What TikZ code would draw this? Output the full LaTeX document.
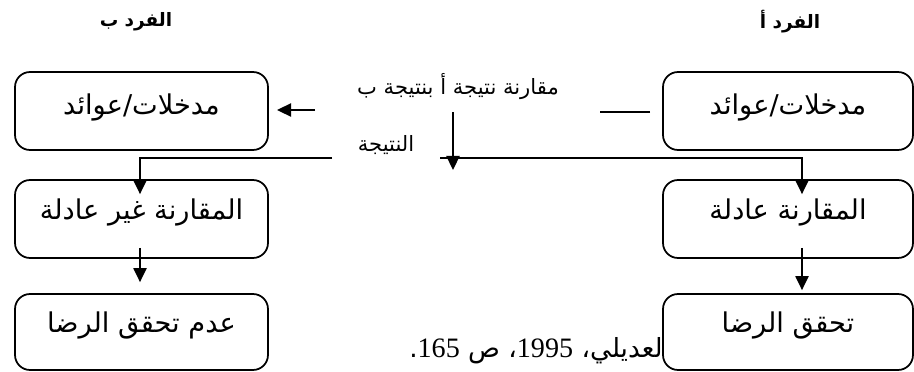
\documentclass[tikz,border=0pt]{standalone}
\usepackage{fontspec}
\setmainfont{DejaVu Sans}
\newfontfamily\arabicfont[Script=Arabic]{DejaVu Sans}
\newfontfamily\numfont{Liberation Serif}
\TeXXeTstate=1
\usetikzlibrary{arrows.meta, positioning}
\newcommand{\artxt}[1]{\beginR #1\endR}

\begin{document}
\begin{tikzpicture}[
  x=0.02cm, y=-0.02cm,
  box/.style={rectangle, draw, rounded corners=0.3cm, line width=1pt, minimum width=5.06cm, minimum height=1.56cm, text height=12pt, text depth=11pt, font=\arabicfont\fontsize{15.5}{18}\selectfont},
  label/.style={inner sep=1pt, font=\arabicfont\fontsize{12}{14}\selectfont},
  head/.style={inner sep=1pt, font=\arabicfont\bfseries\fontsize{10.5}{13}\selectfont},
  arrow/.style={-{Triangle[length=8pt, width=7.5pt]}, line width=1pt},
  line/.style={line width=1pt}
]
\useasboundingbox (0,0) rectangle (914,372);

% Headers
\node[head] (hdrB) at (136, 22) {\artxt{الفرد ب}};
\node[head] (hdrA) at (790, 22) {\artxt{الفرد أ}};

% Person A
\node[box, minimum width=5cm, text depth=8pt] (inA) at (788, 111) {\artxt{مدخلات/عوائد}};
\node[box, minimum width=5cm] (fairA) at (788, 219) {\artxt{المقارنة عادلة}};
\node[box, minimum width=5cm, minimum height=1.52cm] (satA) at (788, 332) {\artxt{تحقق الرضا}};

% Person B
\node[box, text depth=8pt] (inB) at (141.5, 111) {\artxt{مدخلات/عوائد}};
\node[box] (unfairB) at (141.5, 219) {\artxt{المقارنة غير عادلة}};
\node[box, minimum height=1.52cm] (notB) at (141.5, 332) {\artxt{عدم تحقق الرضا}};

% Comparison
\node[label] (cmpLbl) at (458, 87) {\artxt{مقارنة نتيجة أ بنتيجة ب}};
\node[label] (resLbl) at (386, 145) {\artxt{النتيجة}};

% Source
\node[anchor=east, inner sep=0pt, font=\arabicfont\fontsize{15}{18}\selectfont] (srcLbl) at (663, 351)
  {\artxt{لعديلي، {\numfont\fontsize{16}{18}\selectfont\beginL 1995\endL}، ص {\numfont\fontsize{16}{18}\selectfont\beginL 165\endL}.}};

% Free ends
\coordinate (lineA1) at (650, 112);
\coordinate (lineA2) at (600, 112);
\coordinate (arrB1) at (315, 110);
\coordinate (arrB2) at (277, 110);
\coordinate (cmpTop) at (453, 112);
\coordinate (cmpTip) at (453, 170);
\coordinate (gapR) at (440, 158);
\coordinate (gapL) at (332, 158);

% Arrows
\draw[line] (lineA1) -- (lineA2);
\draw[arrow] (arrB1) -- (arrB2);
\draw[arrow] (cmpTop) -- (cmpTip);
\draw[arrow] (gapR) -| ([xshift=0.28cm, yshift=-0.3cm]fairA.north);
\draw[arrow] (gapL) -| ([xshift=-0.03cm, yshift=-0.3cm]unfairB.north);
\draw[arrow] ([xshift=-0.03cm, yshift=0.22cm]unfairB.south) -- ([xshift=-0.03cm, yshift=0.22cm]notB.north);
\draw[arrow] ([xshift=0.28cm, yshift=0.22cm]fairA.south) -- ([xshift=0.28cm, yshift=0.06cm]satA.north);

\end{tikzpicture}
\end{document}
